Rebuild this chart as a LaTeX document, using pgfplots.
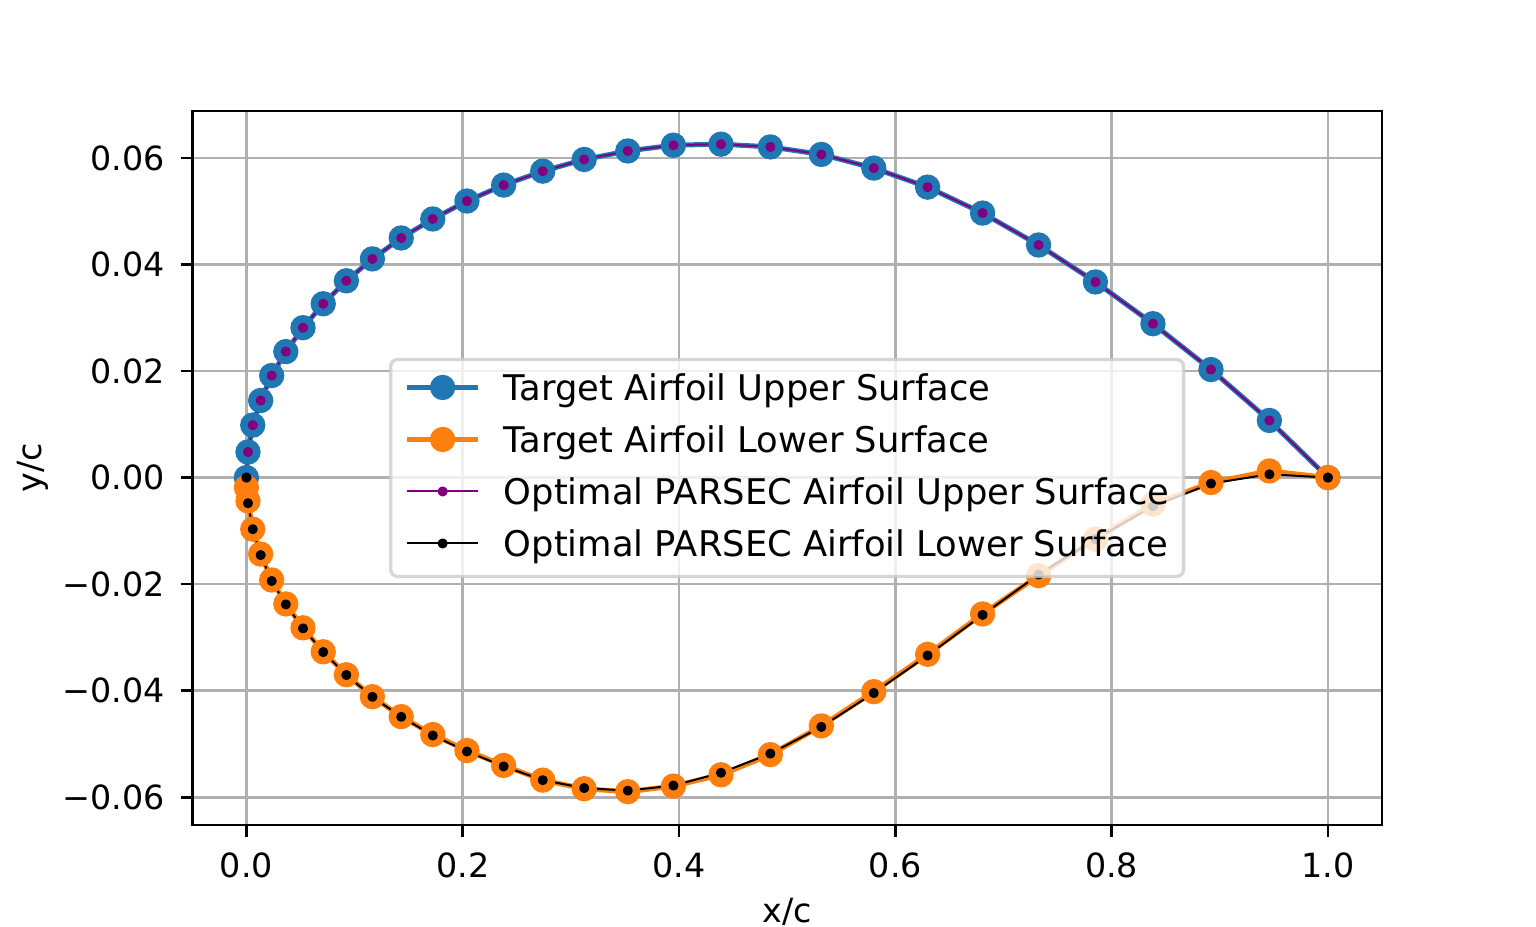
\documentclass[border=0pt]{standalone}
\usepackage{fontspec}
\setmainfont{DejaVu Sans}
\usepackage{pgfplots}
\usepackage{pgfplotstable}
\pgfplotsset{compat=1.18}
\definecolor{tabblue}{HTML}{1F77B4}
\definecolor{taborange}{HTML}{FF7F0E}
\definecolor{mplpurple}{HTML}{800080}
\definecolor{gridgray}{HTML}{B0B0B0}
\definecolor{legedge}{HTML}{CCCCCC}

\pgfplotstableread{
x y
0.000000 0.00000
0.001467 0.00480
0.005862 0.00985
0.013174 0.01447
0.023379 0.01915
0.036450 0.02364
0.052347 0.02813
0.071023 0.03262
0.092425 0.03693
0.116488 0.04104
0.143143 0.04497
0.172311 0.04853
0.203907 0.05190
0.237838 0.05489
0.274005 0.05751
0.312301 0.05970
0.352614 0.06130
0.394826 0.06238
0.438813 0.06257
0.484446 0.06206
0.531592 0.06065
0.580111 0.05808
0.629862 0.05451
0.680698 0.04964
0.732472 0.04365
0.785030 0.03672
0.838218 0.02888
0.891881 0.02027
0.945861 0.01072
1.000000 0.00000
}\tupper

\pgfplotstableread{
x y
0.000000 -0.00187
0.001467 -0.00438
0.005862 -0.00968
0.013174 -0.01436
0.023379 -0.01922
0.036450 -0.02371
0.052347 -0.02820
0.071023 -0.03269
0.092425 -0.03700
0.116488 -0.04112
0.143143 -0.04486
0.172311 -0.04823
0.203907 -0.05123
0.237838 -0.05403
0.274005 -0.05678
0.312301 -0.05840
0.352614 -0.05895
0.394826 -0.05790
0.438813 -0.05578
0.484446 -0.05200
0.531592 -0.04660
0.580111 -0.04018
0.629862 -0.03317
0.680698 -0.02559
0.732472 -0.01840
0.785030 -0.01155
0.838218 -0.00500
0.891881 -0.00094
0.945861 0.00124
1.000000 0.00000
}\tlower

\pgfplotstableread{
x y
0.000000 0.00000
0.001467 0.00480
0.005862 0.00985
0.013174 0.01447
0.023379 0.01915
0.036450 0.02364
0.052347 0.02813
0.071023 0.03262
0.092425 0.03693
0.116488 0.04104
0.143143 0.04497
0.172311 0.04853
0.203907 0.05190
0.237838 0.05489
0.274005 0.05751
0.312301 0.05970
0.352614 0.06130
0.394826 0.06238
0.438813 0.06257
0.484446 0.06206
0.531592 0.06065
0.580111 0.05808
0.629862 0.05451
0.680698 0.04964
0.732472 0.04365
0.785030 0.03672
0.838218 0.02888
0.891881 0.02027
0.945861 0.01072
1.000000 0.00000
}\pupper

\pgfplotstableread{
x y
0.000000 0.00000
0.001467 -0.00481
0.005862 -0.00968
0.013174 -0.01454
0.023379 -0.01941
0.036450 -0.02380
0.052347 -0.02830
0.071023 -0.03275
0.092425 -0.03705
0.116488 -0.04115
0.143143 -0.04490
0.172311 -0.04840
0.203907 -0.05140
0.237838 -0.05420
0.274005 -0.05678
0.312301 -0.05827
0.352614 -0.05875
0.394826 -0.05780
0.438813 -0.05540
0.484446 -0.05180
0.531592 -0.04679
0.580111 -0.04043
0.629862 -0.03339
0.680698 -0.02577
0.732472 -0.01820
0.785030 -0.01155
0.838218 -0.00540
0.891881 -0.00112
0.945861 0.00062
1.000000 0.00000
}\plower

\begin{document}
\begin{tikzpicture}
\path[use as bounding box] (0,0) rectangle (460.8pt,278.1pt);
\begin{axis}[
  at={(57.7pt,30.6pt)}, anchor=south west,
  scale only axis, width=356.9pt, height=214.2pt,
  xmin=-0.05, xmax=1.05, ymin=-0.0652, ymax=0.0688,
  scaled x ticks=false, scaled y ticks=false,
  xtick={0,0.2,0.4,0.6,0.8,1},
  xticklabels={0.0,0.2,0.4,0.6,0.8,1.0},
  ytick={-0.06,-0.04,-0.02,0,0.02,0.04,0.06},
  yticklabels={−0.06,−0.04,−0.02,0.00,0.02,0.04,0.06},
  /pgf/number format/assume math mode=true,
  tick align=outside, xtick pos=bottom, ytick pos=left,
  major tick length=3.5pt,
  tick style={black, line width=0.8pt},
  axis line style={black, line width=0.8pt},
  grid=major, major grid style={gridgray, line width=0.8pt},
  tick label style={font=\fontsize{10}{12}\selectfont},
  xticklabel style={inner sep=0pt, anchor=north, yshift=-4.6pt},
  yticklabel style={inner sep=0pt, anchor=east, xshift=-4.6pt},
  label style={font=\fontsize{10}{12}\selectfont},
  every axis x label/.style={at={(axis description cs:0.5,-0.1359)}, anchor=base},
  every axis y label/.style={at={(axis description cs:-0.1272,0.5)}, anchor=base, rotate=90},
  xlabel={x/c}, ylabel={y/c},
  legend cell align=left,
  legend image code/.code={
    \draw[mark repeat=2,mark phase=2,#1,draw opacity=1,fill opacity=1,yshift=0.755pt,line join=round]
      plot coordinates {(0pt,0pt) (10.6pt,0pt) (21.2pt,0pt)};
  },
  legend style={
    at={(0.5,0.5)}, anchor=center,
    font=\fontsize{10.6}{12}\selectfont,
    draw=legedge, line width=1pt, rounded corners=2.1pt,
    fill=white, fill opacity=0.8, draw opacity=0.8, text opacity=1,
    inner xsep=4.24pt, inner ysep=4.5pt,
    row sep=6.31pt, column sep=7pt,
    nodes={inner sep=0pt, text height=7.73pt, text depth=1.56pt, text opacity=1},
  },
]
\addplot[tabblue, line width=1.5pt, line join=round, mark=*, mark size=3.3pt,
  mark options={solid, fill=tabblue, draw=tabblue, line width=1pt}] table {\tupper};
\addlegendentry{Target Airfoil Upper Surface}
\addplot[taborange, line width=1.5pt, line join=round, mark=*, mark size=3.3pt,
  mark options={solid, fill=taborange, draw=taborange, line width=1pt}] table {\tlower};
\addlegendentry{Target Airfoil Lower Surface}
\addplot[mplpurple, line width=0.6pt, line join=round, mark=*, mark size=1pt,
  mark options={solid, fill=mplpurple, draw=mplpurple, line width=1pt}] table {\pupper};
\addlegendentry{Optimal PARSEC Airfoil Upper Surface}
\addplot[black, line width=0.6pt, line join=round, mark=*, mark size=1pt,
  mark options={solid, fill=black, draw=black, line width=1pt}] table {\plower};
\addlegendentry{Optimal PARSEC Airfoil Lower Surface}
\end{axis}
\end{tikzpicture}
\end{document}
